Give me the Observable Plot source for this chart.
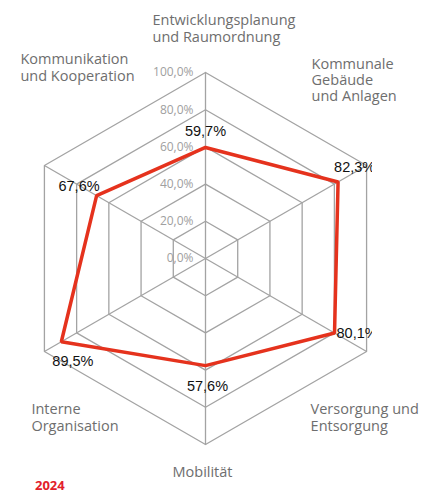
<!DOCTYPE html>
<html>
<head>
<meta charset="utf-8">
<script src="https://cdn.jsdelivr.net/npm/d3@7"></script>
<script src="https://cdn.jsdelivr.net/npm/@observablehq/plot@0.6"></script>
<style>
  html, body { margin: 0; padding: 0; background: #fff; }
  #wrap { position: relative; width: 435px; height: 491px; overflow: hidden; }
  #legend { position: absolute; left: 35px; top: 476px; font: bold 13px "Open Sans", sans-serif; color: #e2202a; }
</style>
</head>
<body>
<div id="wrap"><div id="chart"></div><div id="legend"></div></div>
<script>
// ---- data ----
const categories = [
  "Entwicklungsplanung\nund Raumordnung",
  "Kommunale\nGebäude\nund Anlagen",
  "Versorgung und\nEntsorgung",
  "Mobilität",
  "Interne\nOrganisation",
  "Kommunikation\nund Kooperation"
];
const values2024 = [59.7, 82.3, 80.1, 57.6, 89.5, 67.6];
const seriesName = "2024";
const gridTicks = [0, 20, 40, 60, 80, 100];
const tickLabels = ["0,0%", "20,0%", "40,0%", "60,0%", "80,0%", "100,0%"];

// ---- geometry helpers ----
const n = categories.length;
const ang = i => (i * 2 * Math.PI) / n;
const px = (i, r) => r * Math.sin(ang(i));
const py = (i, r) => r * Math.cos(ang(i));
const fmt = v => d3.format(".1f")(v).replace(".", ",") + "%";

const rings = [];
gridTicks.filter(t => t > 0).forEach(t => {
  for (let i = 0; i <= n; i++) rings.push({ring: t, x: px(i % n, t / 100), y: py(i % n, t / 100)});
});
const spokes = categories.map((c, i) => ({x1: 0, y1: 0, x2: px(i, 1), y2: py(i, 1)}));
const series = [];
for (let i = 0; i <= n; i++) series.push({x: px(i % n, values2024[i % n] / 100), y: py(i % n, values2024[i % n] / 100)});
const pts = values2024.map((v, i) => ({x: px(i, v / 100), y: py(i, v / 100), label: fmt(v), i}));
const tickData = gridTicks.map((t, k) => ({x: 0, y: t / 100, label: tickLabels[k]}));
const catData = categories.map((c, i) => ({x: px(i, 1), y: py(i, 1), label: c, i}));

// label placement (style)
const catPlace = [
  {textAnchor: "start", lineAnchor: "bottom", dx: -53, dy: -31},
  {textAnchor: "start", lineAnchor: "bottom", dx: -55, dy: -65},
  {textAnchor: "start", lineAnchor: "top", dx: -56, dy: 51},
  {textAnchor: "middle", lineAnchor: "middle", dx: -3, dy: 27},
  {textAnchor: "start", lineAnchor: "top", dx: -13, dy: 51},
  {textAnchor: "start", lineAnchor: "bottom", dx: -24, dy: -85}
];
const catLineHeight = [1.15, 1.08, 1.15, 1.15, 1.15, 1.15];
const valPlace = [
  {textAnchor: "middle", dx: 0, dy: -16},
  {textAnchor: "start", dx: -4, dy: -15},
  {textAnchor: "start", dx: 2, dy: 0},
  {textAnchor: "middle", dx: 2, dy: 21},
  {textAnchor: "start", dx: -9, dy: 20},
  {textAnchor: "end", dx: 3, dy: -9}
];

const R = 186, cx = 205, cy = 258, W = 435, H = 491, clipRight = 372;

const marks = [
  Plot.line(rings, {x: "x", y: "y", z: "ring", stroke: "#a3a3a3", strokeWidth: 1.3}),
  Plot.link(spokes, {x1: "x1", y1: "y1", x2: "x2", y2: "y2", stroke: "#a3a3a3", strokeWidth: 1.3}),
  Plot.line(series, {x: "x", y: "y", stroke: "#e5321d", strokeWidth: 3.5, strokeLinejoin: "miter"}),
  Plot.text(tickData, {x: "x", y: "y", text: "label", textAnchor: "end", dx: -12, fill: "#a0a0a0", fontSize: 12, fontFamily: "Open Sans, sans-serif"})
];
catData.forEach((d, i) => {
  marks.push(Plot.text([d], {x: "x", y: "y", text: "label", ...catPlace[i], lineHeight: catLineHeight[i], fill: "#6e6e6e", fontSize: 14.5, fontFamily: "Open Sans, sans-serif"}));
});
pts.forEach((d, i) => {
  marks.push(Plot.text([d], {x: "x", y: "y", text: "label", ...valPlace[i], fill: "#111", fontSize: 14.5, fontFamily: "Liberation Sans, Arial, sans-serif"}));
});

const chart = Plot.plot({
  width: W, height: H,
  marginLeft: 0, marginTop: 0, marginBottom: 0, marginRight: W - clipRight,
  x: {domain: [-cx / R, (clipRight - cx) / R], axis: null},
  y: {domain: [-(H - cy) / R, cy / R], axis: null},
  style: {overflow: "visible", background: "transparent"},
  marks
});
// clip value labels to the plot frame (as in the reference)
const svg = d3.select(chart);
svg.insert("defs", ":first-child").append("clipPath").attr("id", "frameclip")
  .append("rect").attr("x", 0).attr("y", 0).attr("width", clipRight).attr("height", H);
const valueTexts = new Set(pts.map(d => d.label));
svg.selectAll("text").filter(function () { return valueTexts.has(this.textContent); }).each(function () {
  const g = this.parentNode;
  if (g.parentNode && g.parentNode.getAttribute("clip-path")) return;
  const wrap = document.createElementNS("http://www.w3.org/2000/svg", "g");
  wrap.setAttribute("clip-path", "url(#frameclip)");
  g.parentNode.insertBefore(wrap, g);
  wrap.appendChild(g);
});
document.getElementById("chart").appendChild(chart);
document.getElementById("legend").textContent = seriesName;
</script>
</body>
</html>
